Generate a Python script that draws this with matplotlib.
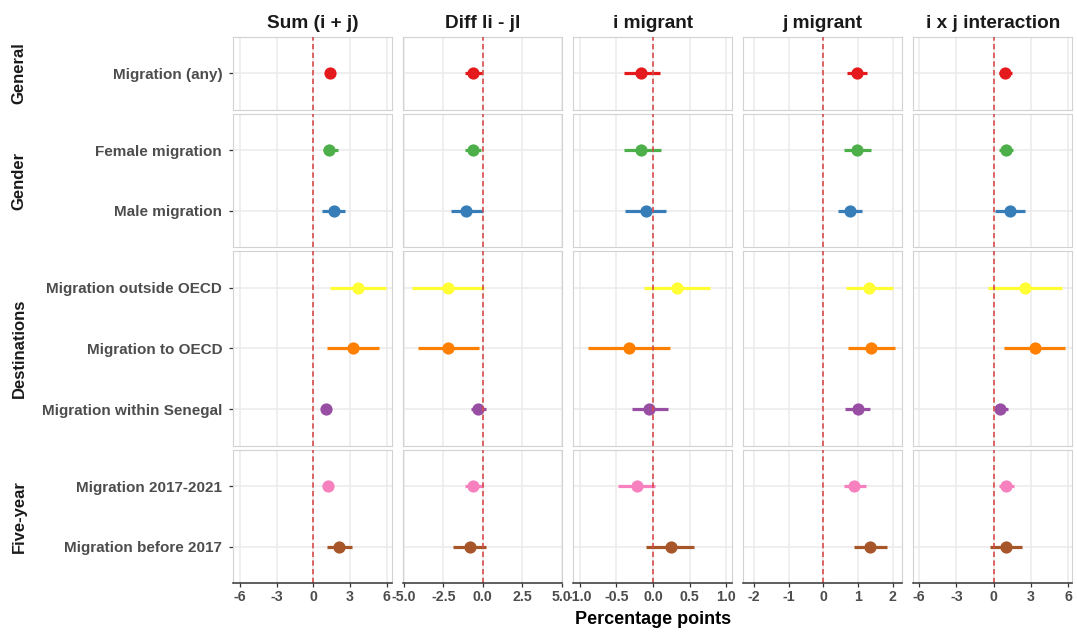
import matplotlib
matplotlib.use("Agg")
import matplotlib.pyplot as plt

plt.rcParams['font.family'] = ['Liberation Sans', 'DejaVu Sans']
plt.rcParams['font.weight'] = 'bold'

# ---------------- data ----------------
categories = ["Migration (any)", "Female migration", "Male migration",
              "Migration outside OECD", "Migration to OECD", "Migration within Senegal",
              "Migration 2017-2021", "Migration before 2017"]
groups = ["General", "Gender", "Gender",
          "Destinations", "Destinations", "Destinations",
          "Five-year", "Five-year"]
group_order = ["General", "Gender", "Destinations", "Five-year"]
colors = ["#E41A1C", "#4DAF4A", "#377EB8", "#FFFF33", "#FF7F00", "#984EA3", "#F781BF", "#A65628"]

panels = ["Sum (i + j)", "Diff li - jl", "i migrant", "j migrant", "i x j interaction"]

sum_est = [1.35, 1.3, 1.7, 3.65, 3.24, 1.06, 1.22, 2.12]
sum_lo = [1.0, 0.8, 0.7, 1.33, 1.12, 0.75, 0.9, 1.14]
sum_hi = [1.7, 2.0, 2.6, 5.9, 5.36, 1.4, 1.55, 3.16]

diff_est = [-0.63, -0.63, -1.08, -2.2, -2.2, -0.3, -0.63, -0.84]
diff_lo = [-1.1, -1.1, -2.0, -4.5, -4.13, -0.74, -1.12, -1.9]
diff_hi = [-0.04, -0.1, 0.0, 0.06, -0.25, 0.21, 0.0, 0.23]

imig_est = [-0.16, -0.16, -0.09, 0.32, -0.33, -0.05, -0.22, 0.24]
imig_lo = [-0.39, -0.40, -0.38, -0.13, -0.89, -0.29, -0.48, -0.10]
imig_hi = [0.09, 0.11, 0.18, 0.78, 0.23, 0.20, 0.03, 0.56]

jmig_est = [0.97, 0.98, 0.78, 1.33, 1.38, 1.0, 0.89, 1.36]
jmig_lo = [0.67, 0.60, 0.43, 0.66, 0.71, 0.64, 0.59, 0.90]
jmig_hi = [1.27, 1.38, 1.12, 2.00, 2.07, 1.36, 1.22, 1.83]

int_est = [0.94, 1.02, 1.35, 2.5, 3.3, 0.54, 1.02, 1.0]
int_lo = [0.40, 0.46, 0.14, -0.45, 0.84, 0.19, 0.43, -0.32]
int_hi = [1.48, 1.60, 2.56, 5.50, 5.80, 1.13, 1.67, 2.30]

estimates = [sum_est, diff_est, imig_est, jmig_est, int_est]
lows = [sum_lo, diff_lo, imig_lo, jmig_lo, int_lo]
highs = [sum_hi, diff_hi, imig_hi, jmig_hi, int_hi]

xticks = [[-6, -3, 0, 3, 6], [-5, -2.5, 0, 2.5, 5], [-1, -0.5, 0, 0.5, 1],
          [-2, -1, 0, 1, 2], [-6, -3, 0, 3, 6]]
xticklabels = [["-6", "-3", "0", "3", "6"], ["-5.0", "-2.5", "0.0", "2.5", "5.0"],
               ["-1.0", "-0.5", "0.0", "0.5", "1.0"], ["-2", "-1", "0", "1", "2"],
               ["-6", "-3", "0", "3", "6"]]
xlims = [(-6.53, 6.45), (-5.03, 5.03), (-1.087, 1.08), (-2.31, 2.28), (-6.48, 6.35)]

# ---------------- layout ----------------
W, H = 1077, 633
fig = plt.figure(figsize=(W / 100, H / 100), dpi=100)

col_left = [233.3, 403.3, 573.3, 743.3, 913.3]
col_w = 159.0
unit = 60.7
row_gap = 4.0
top = 37.0

grid_c = "#EBEBEB"
border_c = "#D2D2D2"
dark = "#333333"
vline_c = "#D64B4B"

for gi, g in enumerate(group_order):
    idx = [i for i, gg in enumerate(groups) if gg == g]
    n = len(idx)
    h = (n - 1 + 1.2) * unit
    for ci in range(len(panels)):
        ax = fig.add_axes([col_left[ci] / W, 1 - (top + h) / H, col_w / W, h / H])
        ax.set_xlim(*xlims[ci])
        ax.set_ylim(n - 1 + 0.6, -0.6)
        ax.set_xticks(xticks[ci])
        ax.set_yticks(range(n))
        ax.grid(True, color=grid_c, lw=1.1)
        ax.set_axisbelow(True)
        for k, i in enumerate(idx):
            ax.hlines(k, lows[ci][i], highs[ci][i], color=colors[i], lw=2.3, zorder=3)
            ax.plot([estimates[ci][i]], [k], 'o', ms=8.8, color=colors[i],
                    markeredgewidth=0, zorder=4)
        ax.axvline(0, color=vline_c, lw=1.2, dashes=(3.2, 2.0), zorder=5)
        for s in ax.spines.values():
            s.set_color(border_c)
            s.set_linewidth(0.8)
        if gi == len(group_order) - 1:
            ax.spines['bottom'].set_color(dark)
            ax.spines['bottom'].set_linewidth(1.1)
            ax.spines['bottom'].set_zorder(6)
            ax.set_xticklabels(xticklabels[ci])
            ax.tick_params(axis='x', length=3, width=0.9, color=dark,
                           labelsize=10.2, labelcolor="#4D4D4D", pad=2)
        else:
            ax.tick_params(axis='x', length=0, labelbottom=False)
        if ci == 0:
            ax.set_yticklabels([categories[i] for i in idx])
            ax.tick_params(axis='y', length=3, width=0.9, color=dark,
                           labelsize=11, labelcolor="#4D4D4D", pad=5)
        else:
            ax.tick_params(axis='y', length=0, labelleft=False)
    # row strip label
    fig.text(19 / W, 1 - (top + h / 2) / H, g, rotation=90, ha='center', va='center',
             fontsize=12, color="#1A1A1A")
    top += h + row_gap

for ci, p in enumerate(panels):
    fig.text((col_left[ci] + col_w / 2) / W, 1 - 23 / H, p, ha='center', va='center',
             fontsize=13.7, color="#1A1A1A")

fig.text((col_left[0] + col_left[-1] + col_w) / 2 / W, 1 - 620 / H, "Percentage points",
         ha='center', va='center', fontsize=13, color="#000000")

fig.savefig("out.png", dpi=100, facecolor="white")
